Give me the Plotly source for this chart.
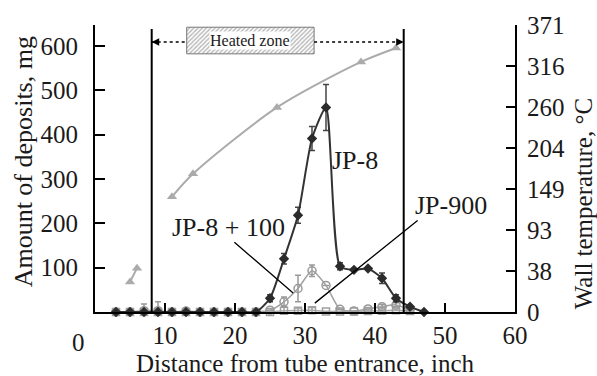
import plotly.graph_objects as go

# ---------------- data ----------------
dist = [3, 5, 7, 9, 11, 13, 15, 17, 19, 21, 23, 25, 27, 29, 31, 33, 35, 37, 39, 41, 43, 45, 47]
jp8 = [0, 0, 0, 0, 0, 0, 0, 0, 0, 0, 0, 31, 120, 218, 391, 461, 103, 95, 98, 76, 31, 12, 0]
jp8_err = [0, 0, 0, 0, 0, 0, 0, 0, 0, 0, 0, 8, 12, 18, 27, 52, 8, 0, 0, 12, 8, 0, 0]

dist_100 = [3, 5, 7, 9, 11, 13, 15, 17, 19, 21, 23, 25, 27, 29, 31, 33, 35, 37, 39, 41, 43, 45]
jp8_100 = [0, 0, 3, 3, 0, 2, 0, 0, 0, 0, 0, 4, 23, 53, 93, 60, 6, 2, 7, 12, 16, 5]
jp8_100_err = [0, 0, 15, 20, 0, 0, 0, 0, 0, 0, 0, 0, 11, 30, 13, 0, 0, 0, 0, 5, 5, 0]

dist_900 = [3, 5, 7, 9, 11, 13, 15, 17, 19, 21, 23, 25, 27, 29, 31, 33, 35, 37, 39, 41, 43, 45]
jp900 = [0, 0, 0, 0, 0, 0, 0, 0, 0, 0, 0, 0, 3, 3, 4, 1, 1, 1, 2, 3, 4, 2]
jp900_err = [0, 0, 0, 0, 0, 0, 0, 0, 0, 0, 0, 0, 10, 6, 6, 0, 0, 0, 0, 0, 0, 0]

# wall temperature (right-axis units: 100-unit steps labelled in deg C)
temp_x = [5, 6, None, 11, 14, 26, 38, 43]
temp_val = [73, 107, None, 281, 337, 499, 610, 644]

right_tickvals = [0, 100, 200, 300, 400, 500, 600, 700]
right_ticktext = ["0", "38", "93", "149", "204", "260", "316", "371"]
left_tickvals = [100, 200, 300, 400, 500, 600]
x_tickvals = [10, 20, 30, 40, 50, 60]

heated_zone = [8.1, 44.1]

FONT = "Liberation Serif"
TXT = "#1a1a1a"

fig = go.Figure()

# temperature
fig.add_trace(go.Scatter(
    x=temp_x, y=temp_val, yaxis="y2", mode="lines+markers",
    line=dict(color="#ababab", width=2, shape="spline", smoothing=0.8),
    marker=dict(symbol="triangle-up", size=9, color="#ababab"),
    connectgaps=False, cliponaxis=False, showlegend=False))

# JP-900
fig.add_trace(go.Scatter(
    x=dist_900, y=jp900, mode="lines+markers",
    line=dict(color="#a8a8a8", width=1.5),
    marker=dict(symbol="square-open", size=7, color="#a0a0a0", line=dict(width=1.5)),
    error_y=dict(type="data", array=jp900_err, color="#a0a0a0", thickness=1.5, width=3),
    cliponaxis=False, showlegend=False))

# JP-8 + 100
fig.add_trace(go.Scatter(
    x=dist_100, y=jp8_100, mode="lines+markers",
    line=dict(color="#a0a0a0", width=1.5, shape="spline", smoothing=0.6),
    marker=dict(symbol="circle-open", size=8, color="#999999", line=dict(width=1.5)),
    error_y=dict(type="data", array=jp8_100_err, color="#999999", thickness=1.5, width=3),
    cliponaxis=False, showlegend=False))

# JP-8
fig.add_trace(go.Scatter(
    x=dist, y=jp8, mode="lines+markers",
    line=dict(color="#333333", width=2, shape="spline", smoothing=0.6),
    marker=dict(symbol="diamond", size=8, color="#2b2b2b"),
    error_y=dict(type="data", array=jp8_err, color="#444444", thickness=1.5, width=3),
    cliponaxis=False, showlegend=False))

# hatched "Heated zone" box
box_x = [13.1, 31.3, 31.3, 13.1, 13.1]
box_y = [582, 582, 642, 642, 582]
fig.add_trace(go.Scatter(
    x=box_x, y=box_y, mode="lines", fill="toself",
    line=dict(color="#777777", width=1),
    fillcolor="rgba(0,0,0,0)",
    fillpattern=dict(shape="/", fgcolor="#6e6e6e", bgcolor="white", size=3, solidity=0.45),
    hoverinfo="skip", showlegend=False))

shapes = []
for hz in heated_zone:
    shapes.append(dict(type="line", xref="x", yref="paper", x0=hz, x1=hz, y0=0, y1=0.986,
                       line=dict(color="black", width=2)))
# dotted extent line
shapes.append(dict(type="line", xref="x", yref="paper", x0=heated_zone[0], x1=13.1, y0=0.941, y1=0.941,
                   line=dict(color="black", width=1.5, dash="dot")))
shapes.append(dict(type="line", xref="x", yref="paper", x0=31.3, x1=heated_zone[1], y0=0.941, y1=0.941,
                   line=dict(color="black", width=1.5, dash="dot")))

C = dict(xanchor="center", yanchor="middle")
annotations = [
    dict(x=22.2, y=0.945, xref="x", yref="paper", text="Heated zone", showarrow=False,
         font=dict(family=FONT, size=16, color=TXT), bgcolor="white", borderpad=0, **C),
    # arrowheads
    dict(x=heated_zone[0], y=0.941, xref="x", yref="paper", ax=8, ay=0, text="", showarrow=True,
         arrowhead=2, arrowsize=1, arrowwidth=1.5, arrowcolor="black"),
    dict(x=heated_zone[1], y=0.941, xref="x", yref="paper", ax=-8, ay=0, text="", showarrow=True,
         arrowhead=2, arrowsize=1, arrowwidth=1.5, arrowcolor="black"),
    # series labels
    dict(x=37.1, y=342, xref="x", yref="y", text="JP-8", showarrow=False,
         font=dict(family=FONT, size=26, color=TXT), **C),
    dict(x=19.0, y=190, xref="x", yref="y", text="JP-8 + 100", showarrow=False,
         font=dict(family=FONT, size=26, color=TXT), **C),
    dict(x=50.9, y=239, xref="x", yref="y", text="JP-900", showarrow=False,
         font=dict(family=FONT, size=26, color=TXT), **C),
    # leader lines
    dict(x=28.3, y=43, ax=19.7, ay=160, xref="x", yref="y", axref="x", ayref="y", text="",
         showarrow=True, arrowhead=0, arrowwidth=1.3, arrowcolor="black"),
    dict(x=31.4, y=20, ax=46.3, ay=209, xref="x", yref="y", axref="x", ayref="y", text="",
         showarrow=True, arrowhead=0, arrowwidth=1.3, arrowcolor="black"),
    # origin label
    dict(x=-0.040, y=-0.107, xref="paper", yref="paper", text="0", showarrow=False,
         font=dict(family=FONT, size=25, color=TXT), **C),
    # axis titles
    dict(x=-0.171, y=0.522, xref="paper", yref="paper", text="Amount of deposits, mg", textangle=-90,
         showarrow=False, font=dict(family=FONT, size=26, color=TXT), **C),
    dict(x=1.163, y=0.377, xref="paper", yref="paper", text="Wall temperature, °C", textangle=-90,
         showarrow=False, font=dict(family=FONT, size=25, color=TXT), **C),
    dict(x=0.5, y=-0.178, xref="paper", yref="paper", text="Distance from tube entrance, inch",
         showarrow=False, font=dict(family=FONT, size=25, color=TXT), **C),
]

fig.update_layout(
    width=597, height=376,
    margin=dict(l=95, r=82, t=23, b=64),
    paper_bgcolor="white", plot_bgcolor="white",
    font=dict(family=FONT, size=25, color=TXT),
    shapes=shapes, annotations=annotations,
    xaxis=dict(range=[0, 60], tickvals=x_tickvals, ticks="inside", ticklen=9, tickwidth=1.5,
               tickcolor="black", showline=True, linecolor="black", linewidth=2,
               showgrid=False, zeroline=False, ticklabelstandoff=0,
               tickfont=dict(family=FONT, size=25, color=TXT)),
    yaxis=dict(range=[0, 647], tickvals=left_tickvals, ticks="inside", ticklen=10, tickwidth=1.5,
               tickcolor="black", showline=True, linecolor="black", linewidth=2,
               showgrid=False, zeroline=False, ticklabelstandoff=10,
               tickfont=dict(family=FONT, size=25, color=TXT)),
    yaxis2=dict(range=[0, 700], overlaying="y", side="right", tickvals=right_tickvals,
                ticktext=right_ticktext, ticks="inside", ticklen=9, tickwidth=1.5,
                tickcolor="black", showline=True, linecolor="black", linewidth=2,
                showgrid=False, zeroline=False, ticklabelstandoff=5,
                tickfont=dict(family=FONT, size=25, color=TXT)),
)

fig.write_html("out.html")
